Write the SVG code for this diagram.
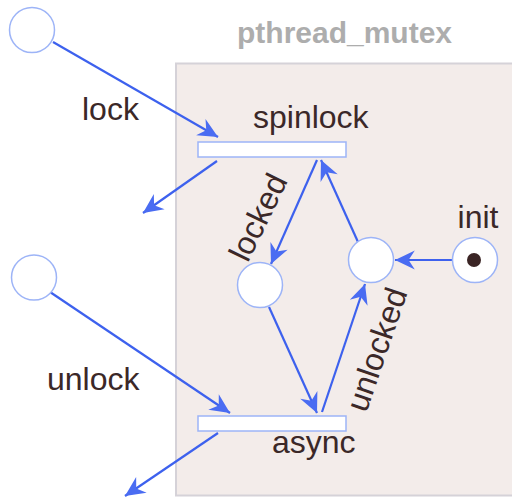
<svg xmlns="http://www.w3.org/2000/svg" width="512" height="497" viewBox="0 0 512 497">
<defs>
<style>
.lbl{font-family:"Liberation Sans",Arial,sans-serif;font-size:32px;fill:#3b2828}
.title{font-family:"Liberation Sans",Arial,sans-serif;font-size:30px;font-weight:bold;fill:#adadad}
.place{fill:#ffffff;stroke:#9db4f7;stroke-width:1.5}
.bar{fill:#ffffff;stroke:#9db4f7;stroke-width:1.5}
.arc{stroke:#3d61ee;stroke-width:2.2;fill:none;marker-end:url(#ah)}
</style>
<marker id="ah" markerUnits="userSpaceOnUse" markerWidth="24" markerHeight="24" viewBox="-21 -11 23 22" refX="0" refY="0" orient="auto">
<path d="M0,0 L-19,-9 L-13,0 L-19,9 Z" fill="#4a6cf2"/>
</marker>
</defs>
<rect x="176" y="63.5" width="340" height="432" fill="#f3ecea" stroke="#d5d2d8" stroke-width="2"/>
<text class="title" x="237" y="43">pthread_mutex</text>
<g id="connectors">
<line class="arc" x1="53" y1="42" x2="218" y2="137"/>
<line class="arc" x1="217" y1="161" x2="143" y2="213"/>
<line class="arc" x1="317" y1="160" x2="271" y2="264"/>
<line class="arc" x1="358" y1="242" x2="321" y2="160"/>
<line class="arc" x1="453" y1="260" x2="395" y2="260"/>
<line class="arc" x1="269" y1="307" x2="317" y2="413"/>
<line class="arc" x1="322" y1="412" x2="365" y2="284"/>
<line class="arc" x1="50" y1="292" x2="230" y2="413"/>
<line class="arc" x1="218" y1="433" x2="125" y2="496"/>
<text class="lbl" transform="translate(268,222) rotate(-64)" text-anchor="middle">locked</text>
<text class="lbl" transform="translate(387,353) rotate(-71)" text-anchor="middle">unlocked</text>
</g>
<g id="lockSrc"><circle class="place" cx="32" cy="30" r="22.5"/><text class="lbl" x="82" y="120">lock</text></g>
<g id="unlockSrc"><circle class="place" cx="34" cy="277.5" r="22.5"/><text class="lbl" x="47" y="390">unlock</text></g>
<g id="spinlock"><rect class="bar" x="198" y="142" width="148" height="15"/><text class="lbl" x="253" y="128">spinlock</text></g>
<g id="async"><rect class="bar" x="198" y="416" width="148" height="15"/><text class="lbl" x="272" y="453">async</text></g>
<g id="locked"><circle class="place" cx="260" cy="285" r="22.5"/></g>
<g id="unlocked"><circle class="place" cx="371" cy="260" r="22.5"/></g>
<g id="init"><circle class="place" cx="475" cy="260" r="22.5"/><circle cx="474" cy="260" r="7" fill="#3a2424"/><text class="lbl" x="478" y="228" text-anchor="middle">init</text></g>
</svg>
